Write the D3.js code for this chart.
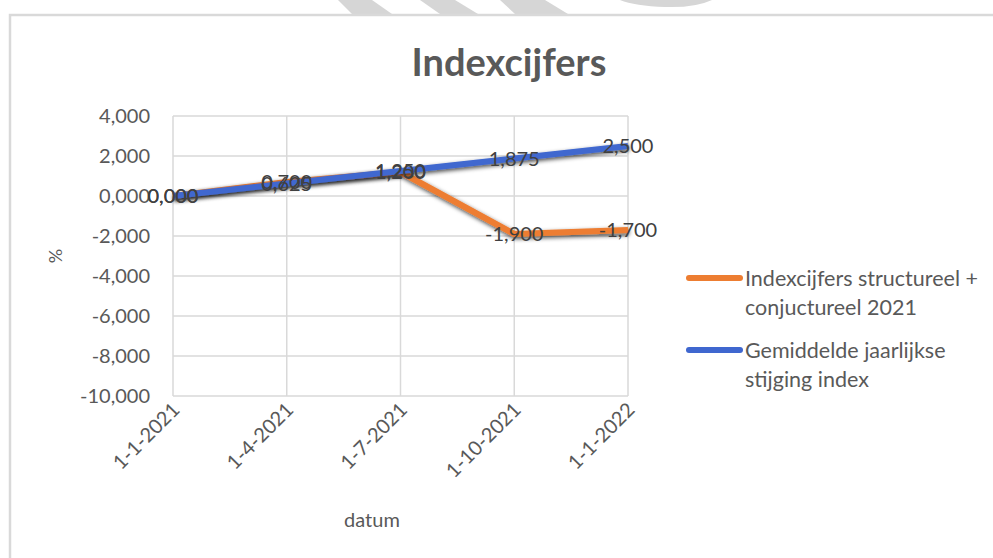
<!DOCTYPE html>
<html>
<head>
<meta charset="utf-8">
<script src="https://cdn.jsdelivr.net/npm/d3@7"></script>
<style>
  body { margin: 0; background: #fff; }
  text { font-family: Lato, "Open Sans", sans-serif; fill: #595959; }
</style>
</head>
<body>
<svg width="993" height="558"></svg>
<script>
const svg = d3.select("svg");

// data
const dates = ['1-1-2021', '1-4-2021', '1-7-2021', '1-10-2021', '1-1-2022'];
const structureel = [0, 0.7, 1.2, -1.9, -1.7];
const gemiddeld = [0, 0.625, 1.25, 1.875, 2.5];
const yTicks = [4, 2, 0, -2, -4, -6, -8, -10];
const seriesNames = [
  ['Indexcijfers structureel +', 'conjuctureel 2021'],
  ['Gemiddelde jaarlijkse', 'stijging index']
];
const colors = ['#ED7D31', '#3F67CF'];

// Dutch style decimals, plain hyphen for minus
const fmt = v => d3.format('.3f')(v).replace('.', ',').replace('\u2212', '-');

// watermark scraps above the frame
const wm = svg.append('g').attr('fill', '#d6d6d6');
wm.append('path').attr('d', 'M338,0 L372,0 L392,14 L352,14 Z');
wm.append('path').attr('d', 'M420,0 L455,0 L478,14 L440,14 Z');
wm.append('path').attr('d', 'M500,0 L545,0 L568,14 L515,14 Z');
wm.append('path').attr('d', 'M620,0 L712,0 Q695,8 665,7 Q635,6 620,0 Z');

// chart frame
svg.append('path')
  .attr('d', 'M10,558 L10,15 L993,15')
  .attr('fill', 'none')
  .attr('stroke', '#d9d9d9')
  .attr('stroke-width', 2.5);

// scales
const xScale = d3.scalePoint().domain(dates).range([173, 628]);
const yScale = d3.scaleLinear().domain([-10, 4]).range([396, 116]);

// gridlines
const grid = svg.append('g').attr('stroke', '#d9d9d9').attr('stroke-width', 1.5);
grid.selectAll('.h').data(yTicks).join('line')
  .attr('x1', 173).attr('x2', 628)
  .attr('y1', d => yScale(d)).attr('y2', d => yScale(d));
grid.selectAll('.v').data(dates).join('line')
  .attr('x1', d => xScale(d)).attr('x2', d => xScale(d))
  .attr('y1', yScale(4)).attr('y2', yScale(-10));

// y axis labels
const yAxis = d3.axisLeft(yScale).tickValues(yTicks).tickFormat(fmt).tickSize(0).tickPadding(23);
const yAxisG = svg.append('g').attr('transform', 'translate(173,0)').call(yAxis);
yAxisG.select('.domain').remove();
yAxisG.selectAll('text')
  .style('font-size', '20px')
  .style('font-family', 'Lato, sans-serif')
  .attr('fill', '#595959');

svg.append('text')
  .attr('transform', 'translate(62,256) rotate(-90)')
  .attr('text-anchor', 'middle')
  .style('font-size', '18px')
  .text('%');

// x axis labels
const xAxisG = svg.append('g');
xAxisG.selectAll('text').data(dates).join('text')
  .attr('transform', d => `translate(${xScale(d) + 8},${411}) rotate(-45)`)
  .attr('text-anchor', 'end')
  .style('font-size', '20px')
  .text(d => d);

svg.append('text')
  .attr('x', 372).attr('y', 527)
  .attr('text-anchor', 'middle')
  .style('font-size', '20px')
  .text('datum');

// title
svg.append('text')
  .attr('x', 509).attr('y', 76)
  .attr('text-anchor', 'middle')
  .style('font-size', '38px')
  .style('font-weight', 'bold')
  .text('Indexcijfers');

// lines
const defs = svg.append('defs');
defs.append('filter').attr('id', 'shadow')
  .attr('x', '-10%').attr('y', '-50%').attr('width', '120%').attr('height', '200%')
  .append('feDropShadow')
  .attr('dx', 1).attr('dy', 2).attr('stdDeviation', 2)
  .attr('flood-color', '#000').attr('flood-opacity', 0.7);

const line = d3.line()
  .x((d, i) => xScale(dates[i]))
  .y(d => yScale(d));

[structureel, gemiddeld].forEach((vals, k) => {
  svg.append('path')
    .attr('d', line(vals))
    .attr('fill', 'none')
    .attr('stroke', colors[k])
    .attr('stroke-width', 6)
    .attr('stroke-linejoin', 'round')
    .attr('filter', 'url(#shadow)');
});

// data labels
[gemiddeld, structureel].forEach(vals => {
  svg.append('g').selectAll('text').data(vals).join('text')
    .attr('x', (d, i) => xScale(dates[i]))
    .attr('y', d => yScale(d))
    .attr('dy', '0.35em')
    .attr('text-anchor', 'middle')
    .style('font-size', '20px')
    .style('fill', '#404040')
    .text(d => fmt(d));
});

// legend
const legendY = [278, 350];
seriesNames.forEach((lines, k) => {
  const lg = svg.append('g');
  lg.append('line')
    .attr('x1', 689).attr('x2', 740)
    .attr('y1', legendY[k]).attr('y2', legendY[k])
    .attr('stroke', colors[k])
    .attr('stroke-width', 6)
    .attr('stroke-linecap', 'round');
  lines.forEach((t, j) => {
    lg.append('text')
      .attr('x', 745).attr('y', legendY[k] + j * 29)
      .attr('dy', '0.35em')
      .style('font-size', '21.5px')
      .text(t);
  });
});
</script>
</body>
</html>
